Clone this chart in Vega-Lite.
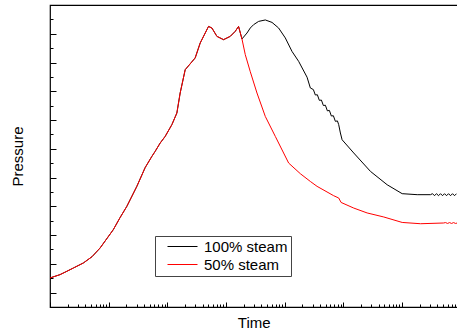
{
  "$schema": "https://vega.github.io/schema/vega-lite/v6.json",
  "width": 407.5,
  "height": 302,
  "autosize": {"type": "none"},
  "padding": {"left": 50, "top": 5, "right": 0, "bottom": 27},
  "background": "white",
  "config": {
    "view": {"stroke": "#000", "strokeWidth": 1.2},
    "font": "Liberation Sans",
    "axis": {"grid": false, "domain": false, "labels": false, "tickColor": "#000", "tickWidth": 1, "titleFontSize": 15, "titleFontWeight": "normal", "titleColor": "#000", "titleFont": "Liberation Sans"}
  },
  "datasets": {
    "pts": [
      {"t": 1, "p": 2.02, "s": "50% steam"}, {"t": 1.48, "p": 2.25, "s": "50% steam"}, {"t": 1.93, "p": 2.48, "s": "50% steam"}, {"t": 2.5, "p": 2.71, "s": "50% steam"}, {"t": 3.7, "p": 3.06, "s": "50% steam"}, {"t": 5.21, "p": 3.5, "s": "50% steam"}, {"t": 7.13, "p": 4.1, "s": "50% steam"}, {"t": 12.0, "p": 5.38, "s": "50% steam"}, {"t": 15.6, "p": 6.21, "s": "50% steam"}, {"t": 20.4, "p": 7.0, "s": "50% steam"}, {"t": 30.2, "p": 8.39, "s": "50% steam"}, {"t": 41.8, "p": 9.69, "s": "50% steam"}, {"t": 54.4, "p": 10.47, "s": "50% steam"}, {"t": 61.9, "p": 10.82, "s": "50% steam"}, {"t": 75.4, "p": 11.4, "s": "50% steam"}, {"t": 91.7, "p": 11.86, "s": "50% steam"}, {"t": 119.4, "p": 12.68, "s": "50% steam"}, {"t": 145.2, "p": 13.49, "s": "50% steam"}, {"t": 165.3, "p": 14.88, "s": "50% steam"}, {"t": 201.3, "p": 16.5, "s": "50% steam"}, {"t": 298, "p": 17.32, "s": "50% steam"}, {"t": 363, "p": 18.36, "s": "50% steam"}, {"t": 503, "p": 19.51, "s": "50% steam"}, {"t": 574, "p": 19.4, "s": "50% steam"}, {"t": 699, "p": 18.82, "s": "50% steam"}, {"t": 906, "p": 18.59, "s": "50% steam"}, {"t": 1180, "p": 18.82, "s": "50% steam"}, {"t": 1436, "p": 19.17, "s": "50% steam"}, {"t": 1634, "p": 19.51, "s": "50% steam"}, {"t": 1868, "p": 18.64, "s": "50% steam"},
      {"t": 2127, "p": 17.55, "s": "50% steam"}, {"t": 2590, "p": 16.36, "s": "50% steam"}, {"t": 3366, "p": 14.88, "s": "50% steam"}, {"t": 4667, "p": 13.25, "s": "50% steam"}, {"t": 6918, "p": 11.86, "s": "50% steam"}, {"t": 11670, "p": 10.01, "s": "50% steam"}, {"t": 18460, "p": 9.27, "s": "50% steam"}, {"t": 27350, "p": 8.73, "s": "50% steam"}, {"t": 35590, "p": 8.39, "s": "50% steam"}, {"t": 68240, "p": 7.74, "s": "50% steam"}, {"t": 83170, "p": 7.58, "s": "50% steam"}, {"t": 91350, "p": 7.27, "s": "50% steam"}, {"t": 150000, "p": 6.88, "s": "50% steam"}, {"t": 253600, "p": 6.54, "s": "50% steam"}, {"t": 487300, "p": 6.26, "s": "50% steam"}, {"t": 1004000, "p": 5.88, "s": "50% steam"}, {"t": 2062000, "p": 5.79, "s": "50% steam"}, {"t": 5080000, "p": 5.84, "s": "50% steam"}, {"t": 5500000, "p": 5.87, "s": "50% steam"}, {"t": 5960000, "p": 5.81, "s": "50% steam"}, {"t": 6440000, "p": 5.87, "s": "50% steam"}, {"t": 6970000, "p": 5.81, "s": "50% steam"}, {"t": 7540000, "p": 5.87, "s": "50% steam"}, {"t": 8150000, "p": 5.81, "s": "50% steam"}, {"t": 8710000, "p": 5.84, "s": "50% steam"},
      {"t": 1, "p": 2.02, "s": "100% steam"}, {"t": 1.48, "p": 2.25, "s": "100% steam"}, {"t": 1.93, "p": 2.48, "s": "100% steam"}, {"t": 2.5, "p": 2.71, "s": "100% steam"}, {"t": 3.7, "p": 3.06, "s": "100% steam"}, {"t": 5.21, "p": 3.5, "s": "100% steam"}, {"t": 7.13, "p": 4.1, "s": "100% steam"}, {"t": 12.0, "p": 5.38, "s": "100% steam"}, {"t": 15.6, "p": 6.21, "s": "100% steam"}, {"t": 20.4, "p": 7.0, "s": "100% steam"}, {"t": 30.2, "p": 8.39, "s": "100% steam"}, {"t": 41.8, "p": 9.69, "s": "100% steam"}, {"t": 54.4, "p": 10.47, "s": "100% steam"}, {"t": 61.9, "p": 10.82, "s": "100% steam"}, {"t": 75.4, "p": 11.4, "s": "100% steam"}, {"t": 91.7, "p": 11.86, "s": "100% steam"}, {"t": 119.4, "p": 12.68, "s": "100% steam"}, {"t": 145.2, "p": 13.49, "s": "100% steam"}, {"t": 165.3, "p": 14.88, "s": "100% steam"}, {"t": 201.3, "p": 16.5, "s": "100% steam"}, {"t": 298, "p": 17.32, "s": "100% steam"}, {"t": 363, "p": 18.36, "s": "100% steam"}, {"t": 503, "p": 19.51, "s": "100% steam"}, {"t": 574, "p": 19.4, "s": "100% steam"}, {"t": 699, "p": 18.82, "s": "100% steam"}, {"t": 906, "p": 18.59, "s": "100% steam"}, {"t": 1180, "p": 18.82, "s": "100% steam"}, {"t": 1436, "p": 19.17, "s": "100% steam"}, {"t": 1634, "p": 19.51, "s": "100% steam"}, {"t": 1868, "p": 18.64, "s": "100% steam"},
      {"t": 2274, "p": 19.05, "s": "100% steam"}, {"t": 2590, "p": 19.4, "s": "100% steam"}, {"t": 2946, "p": 19.63, "s": "100% steam"}, {"t": 3589, "p": 19.86, "s": "100% steam"}, {"t": 4667, "p": 19.96, "s": "100% steam"}, {"t": 6072, "p": 19.79, "s": "100% steam"}, {"t": 7870, "p": 19.4, "s": "100% steam"}, {"t": 10230, "p": 18.71, "s": "100% steam"}, {"t": 13320, "p": 17.77, "s": "100% steam"}, {"t": 17270, "p": 17.08, "s": "100% steam"}, {"t": 24020, "p": 15.98, "s": "100% steam"}, {"t": 27350, "p": 15.23, "s": "100% steam"}, {"t": 30760, "p": 15.12, "s": "100% steam"}, {"t": 33270, "p": 14.74, "s": "100% steam"}, {"t": 35980, "p": 14.76, "s": "100% steam"}, {"t": 38910, "p": 14.37, "s": "100% steam"}, {"t": 42170, "p": 14.39, "s": "100% steam"}, {"t": 45600, "p": 14.01, "s": "100% steam"}, {"t": 49320, "p": 14.03, "s": "100% steam"}, {"t": 53330, "p": 13.64, "s": "100% steam"}, {"t": 57680, "p": 13.67, "s": "100% steam"}, {"t": 62370, "p": 13.28, "s": "100% steam"}, {"t": 67450, "p": 13.3, "s": "100% steam"}, {"t": 72950, "p": 12.91, "s": "100% steam"}, {"t": 79070, "p": 12.94, "s": "100% steam"}, {"t": 83170, "p": 12.68, "s": "100% steam"}, {"t": 88920, "p": 12.1, "s": "100% steam"}, {"t": 95060, "p": 11.63, "s": "100% steam"}, {"t": 150000, "p": 10.71, "s": "100% steam"}, {"t": 289000, "p": 9.43, "s": "100% steam"}, {"t": 557000, "p": 8.5, "s": "100% steam"}, {"t": 1004000, "p": 7.88, "s": "100% steam"}, {"t": 1811000, "p": 7.81, "s": "100% steam"}, {"t": 3053000, "p": 7.81, "s": "100% steam"}, {"t": 3300000, "p": 7.88, "s": "100% steam"}, {"t": 3570000, "p": 7.74, "s": "100% steam"}, {"t": 3860000, "p": 7.88, "s": "100% steam"}, {"t": 4180000, "p": 7.74, "s": "100% steam"}, {"t": 4520000, "p": 7.88, "s": "100% steam"}, {"t": 4890000, "p": 7.74, "s": "100% steam"}, {"t": 5290000, "p": 7.88, "s": "100% steam"}, {"t": 5720000, "p": 7.74, "s": "100% steam"}, {"t": 6190000, "p": 7.88, "s": "100% steam"}, {"t": 6690000, "p": 7.74, "s": "100% steam"}, {"t": 7240000, "p": 7.88, "s": "100% steam"}, {"t": 7830000, "p": 7.74, "s": "100% steam"}, {"t": 8470000, "p": 7.88, "s": "100% steam"}
    ]
  },
  "data": {"name": "pts"},
  "encoding": {
    "x": {
      "field": "t", "type": "quantitative",
      "scale": {"type": "log", "domain": [1, 8800000], "nice": false},
      "axis": {
        "title": "Time", "titlePadding": 8,
        "values": [1,2,3,4,5,6,7,8,9,10,20,30,40,50,60,70,80,90,100,200,300,400,500,600,700,800,900,1000,2000,3000,4000,5000,6000,7000,8000,9000,10000,20000,30000,40000,50000,60000,70000,80000,90000,100000,200000,300000,400000,500000,600000,700000,800000,900000,1000000,2000000,3000000,4000000,5000000,6000000,7000000,8000000],
        "tickSize": {"condition": {"test": "abs(log(datum.value)/LN10 - round(log(datum.value)/LN10)) < 0.001", "value": -5}, "value": -3}
      }
    },
    "y": {
      "field": "p", "type": "quantitative",
      "scale": {"domain": [0, 21], "nice": false, "zero": false},
      "axis": {
        "title": "Pressure", "titlePadding": 24,
        "values": [1,2,3,4,5,6,7,8,9,10,11,12,13,14,15,16,17,18,19,20],
        "tickSize": {"condition": {"test": "datum.value % 2 == 1", "value": -6}, "value": -3}
      }
    },
    "color": {
      "field": "s", "type": "nominal",
      "scale": {"domain": ["100% steam", "50% steam"], "range": ["#000000", "#ff0000"]},
      "legend": {
        "title": null, "orient": "none", "legendX": 105, "legendY": 231,
        "direction": "vertical", "strokeColor": "#444", "fillColor": "#ffffff",
        "padding": 3, "symbolType": "M-3,0H3", "symbolSize": 100, "symbolStrokeWidth": 1,
        "symbolOffset": 17, "labelFontSize": 15, "labelOffset": 14, "labelColor": "#000",
        "labelFont": "Liberation Sans", "rowPadding": 2
      }
    }
  },
  "layer": [
    {"transform": [{"filter": "datum.s == '100% steam'"}], "mark": {"type": "line", "strokeWidth": 1}},
    {"transform": [{"filter": "datum.s == '50% steam'"}], "mark": {"type": "line", "strokeWidth": 1}}
  ]
}
